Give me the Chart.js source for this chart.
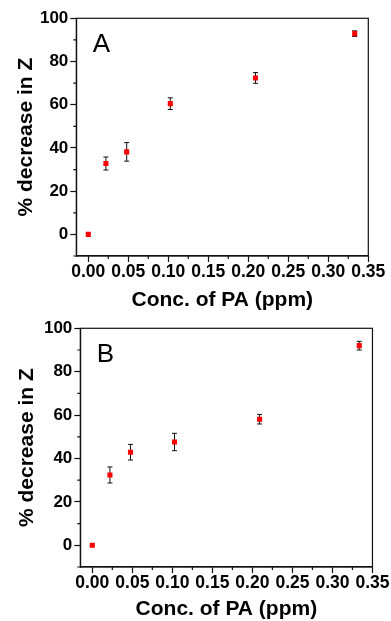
<!DOCTYPE html>
<html>
<head>
<meta charset="utf-8">
<script src="https://cdn.jsdelivr.net/npm/chart.js@4.4.1/dist/chart.umd.min.js"></script>
<style>
  html, body { margin: 0; padding: 0; background: #fff; }
  #wrap { position: relative; width: 391px; height: 621px; overflow: hidden; }
  canvas { position: absolute; left: 0; }
</style>
</head>
<body>
<div id="wrap">
  <canvas id="chartA" width="391" height="320" style="top:0"></canvas>
  <canvas id="chartB" width="391" height="321" style="top:300px"></canvas>
</div>
<script>
// datos
const concA = [0, 0.022, 0.048, 0.1025, 0.209, 0.333];
const decreaseA = [0, 32.8, 38.2, 60.5, 72.4, 92.9];
const errA = [0, 3.0, 4.3, 2.7, 2.5, 1.3];

const concB = [0, 0.022, 0.0477, 0.1027, 0.209, 0.3335];
const decreaseB = [0, 32.4, 42.9, 47.6, 58.1, 92.0];
const errB = [0, 3.7, 3.6, 4.0, 2.2, 2.0];

const xMajorTicks = [0, 0.05, 0.10, 0.15, 0.20, 0.25, 0.30, 0.35];
const xMinorTicks = [0.025, 0.075, 0.125, 0.175, 0.225, 0.275, 0.325];
const yMajorTicks = [0, 20, 40, 60, 80, 100];
const yMinorTicks = [-10, 10, 30, 50, 70, 90];

const fontFam = '"Liberation Sans", Arial, sans-serif';

// barras de error, marcas menores, marco y letra del panel
const extrasPlugin = {
  id: 'extras',
  beforeDatasetsDraw(chart) {
    const ctx = chart.ctx;
    const xs = chart.scales.x, ys = chart.scales.y;
    const pts = chart.data.datasets[0].data;
    const errs = chart.options.plugins.extras.errors;
    ctx.save();
    ctx.strokeStyle = '#111';
    ctx.lineWidth = 1;
    pts.forEach((p, i) => {
      if (!errs[i]) return;
      const px = xs.getPixelForValue(p.x);
      const top = ys.getPixelForValue(p.y + errs[i]);
      const bot = ys.getPixelForValue(p.y - errs[i]);
      ctx.beginPath();
      ctx.moveTo(px, top); ctx.lineTo(px, bot);
      ctx.moveTo(px - 2.5, top); ctx.lineTo(px + 2.5, top);
      ctx.moveTo(px - 2.5, bot); ctx.lineTo(px + 2.5, bot);
      ctx.stroke();
    });
    ctx.restore();
  },
  afterDraw(chart) {
    const ctx = chart.ctx;
    const a = chart.chartArea;
    const xs = chart.scales.x, ys = chart.scales.y;
    ctx.save();
    ctx.strokeStyle = '#111';
    ctx.lineWidth = 1.2;
    ctx.strokeRect(a.left, a.top, a.right - a.left, a.bottom - a.top);
    ctx.beginPath();
    xMinorTicks.forEach(v => {
      const px = xs.getPixelForValue(v);
      ctx.moveTo(px, a.bottom); ctx.lineTo(px, a.bottom + 3);
    });
    yMinorTicks.forEach(v => {
      const py = ys.getPixelForValue(v);
      ctx.moveTo(a.left, py); ctx.lineTo(a.left - 3, py);
    });
    ctx.stroke();
    ctx.fillStyle = '#000';
    ctx.font = '26px ' + fontFam;
    ctx.textBaseline = 'alphabetic';
    ctx.fillText(chart.options.plugins.extras.letter, a.left + 16.5, a.top + 34);
    ctx.restore();
  }
};

function makeChart(id, xs, ys, errs, letter, g) {
  const ctx = document.getElementById(id).getContext('2d');
  return new Chart(ctx, {
    type: 'scatter',
    data: {
      datasets: [{
        data: xs.map((x, i) => ({ x: x, y: ys[i] })),
        pointStyle: 'rect',
        pointRadius: 3.6,
        pointHoverRadius: 3.6,
        backgroundColor: '#ff0000',
        borderColor: '#ff0000',
        borderWidth: 0
      }]
    },
    options: {
      responsive: false,
      animation: false,
      layout: { padding: { left: 0, right: g.right, top: g.top, bottom: 0 } },
      plugins: {
        legend: { display: false },
        tooltip: { enabled: false },
        extras: { errors: errs, letter: letter }
      },
      scales: {
        x: {
          type: 'linear',
          min: -0.015,
          max: 0.35,
          afterBuildTicks: s => { s.ticks = xMajorTicks.map(v => ({ value: v })); },
          afterFit: s => { s.height = g.xHeight; },
          grid: { drawOnChartArea: false, tickLength: 6, tickColor: '#111', tickWidth: 1.2 },
          border: { color: '#111', width: 1.2 },
          ticks: {
            autoSkip: false, maxRotation: 0, padding: g.xTickPad, color: '#000',
            font: { family: fontFam, size: 17.5, weight: 'bold', lineHeight: 1 },
            callback: v => v.toFixed(2)
          },
          title: {
            display: true, text: 'Conc. of PA (ppm)', color: '#000',
            font: { family: fontFam, size: 21, weight: 'bold', lineHeight: 1 },
            padding: { top: 0, bottom: g.xTitlePad }
          }
        },
        y: {
          min: -10,
          max: 100,
          afterBuildTicks: s => { s.ticks = yMajorTicks.map(v => ({ value: v })); },
          afterFit: s => { s.width = g.yWidth; },
          grid: { drawOnChartArea: false, tickLength: 6, tickColor: '#111', tickWidth: 1.2 },
          border: { color: '#111', width: 1.2 },
          ticks: {
            autoSkip: false, padding: 2, color: '#000',
            font: { family: fontFam, size: 17, weight: 'bold', lineHeight: 1 }
          },
          title: {
            display: true, text: '% decrease in Z', color: '#000',
            font: { family: fontFam, size: 21, weight: 'bold', lineHeight: 1.2 },
            padding: { top: g.yTitlePad, bottom: 0 }
          }
        }
      }
    },
    plugins: [extrasPlugin]
  });
}

makeChart('chartA', concA, decreaseA, errA, 'A',
  { right: 22.7, top: 18.3, xHeight: 64, yWidth: 76.3, xTickPad: 1, xTitlePad: 9, yTitlePad: 13.4 });
makeChart('chartB', concB, decreaseB, errB, 'B',
  { right: 17, top: 28.3, xHeight: 54, yWidth: 80.3, xTickPad: 1.5, xTitlePad: 1, yTitlePad: 14.9 });
</script>
</body>
</html>
